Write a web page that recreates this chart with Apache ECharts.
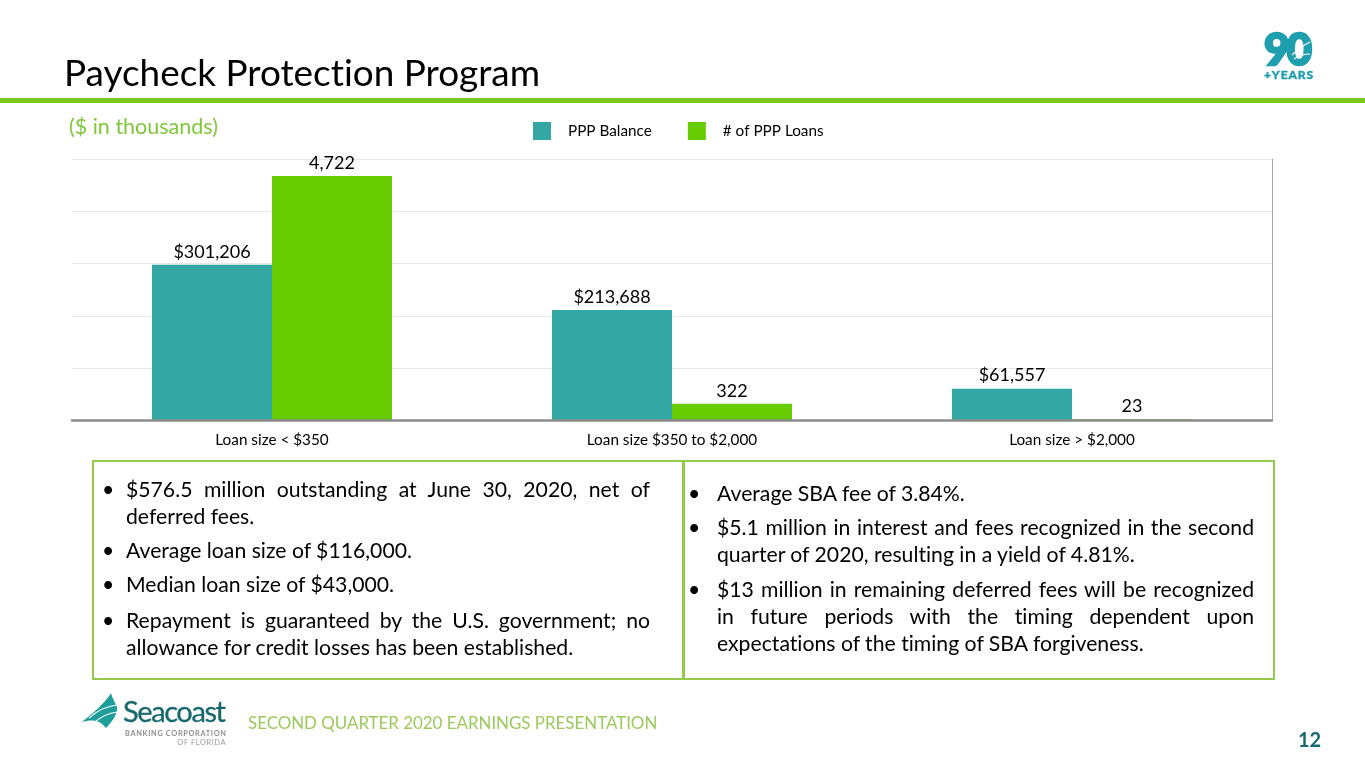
<!DOCTYPE html>
<html>
<head>
<meta charset="utf-8"/>
<title>Paycheck Protection Program</title>
<style>
    html, body { margin: 0; padding: 0; background: #fff; }
    body { width: 1365px; height: 769px; position: relative; overflow: hidden; font-family: Lato, "Open Sans", sans-serif; color: #000; font-variant-ligatures: none; }
    #main { position: absolute; left: 0; top: 0; width: 1365px; height: 769px; }
    .abs { position: absolute; white-space: nowrap; }
    #pageTitle { left: 64px; top: 50px; font-size: 36.9px; line-height: 44px; }
    #rule { position: absolute; left: 0; top: 98px; width: 1365px; height: 5px; background: #7ac81e; }
    #unit { left: 69px; top: 114px; font-size: 21.5px; line-height: 24px; color: #7fc73a; }
    .box { position: absolute; top: 460px; height: 220px; box-sizing: border-box; border: 2px solid #95c94a; font-size: 21.2px; line-height: 27px; }
    #boxLeft { left: 92px; width: 592px; }
    #boxRight { left: 683px; width: 592px; }
    .para { position: absolute; }
    #boxLeft .para { left: 32px; width: 524px; }
    #boxRight .para { left: 32px; width: 537px; }
    .para div { text-align: justify; white-space: nowrap; }
    .para div.fill { text-align-last: justify; }
    .para:before { content: "\2022"; position: absolute; top: 0; }
    #boxLeft .para:before { left: -24px; }
    #boxRight .para:before { left: -29px; }
    #footer { left: 248px; top: 713px; font-size: 16.9px; line-height: 20px; color: #9cc95c; }
    #pageNum { left: 1298px; top: 727px; font-size: 20px; line-height: 24px; font-weight: 700; color: #17686f; }
    #logo90 { position: absolute; left: 1260px; top: 28px; }
    #logoSea { position: absolute; left: 80px; top: 690px; }
</style>
</head>
<body>
<div id="main"></div>
<div id="pageTitle" class="abs">Paycheck Protection Program</div>
<div id="rule"></div>
<div id="unit" class="abs">($ in thousands)</div>

<svg id="logo90" width="58" height="54">
    <text x="4" y="37" font-family="Lato" font-weight="900" font-size="44" letter-spacing="-3" fill="#1f9fae" stroke="#1f9fae" stroke-width="2.4">90</text>
    <path d="M32 27 C38 21 44 17 50 14 M34 31 C40 27 45 26 50 26" fill="none" stroke="#fff" stroke-width="1.2"/>
    <text x="4" y="51" font-family="Lato" font-weight="900" font-size="12" textLength="49" fill="#1f9fae" stroke="#1f9fae" stroke-width="0.4">+YEARS</text>
</svg>

<div class="box" id="boxLeft">
    <div class="para" style="top:14px">
        <div class="fill">$576.5 million outstanding at June 30, 2020, net of</div>
        <div>deferred fees.</div>
    </div>
    <div class="para" style="top:75px"><div>Average loan size of $116,000.</div></div>
    <div class="para" style="top:109px"><div>Median loan size of $43,000.</div></div>
    <div class="para" style="top:145px">
        <div class="fill">Repayment is guaranteed by the U.S. government; no</div>
        <div>allowance for credit losses has been established.</div>
    </div>
</div>
<div class="box" id="boxRight">
    <div class="para" style="top:18px"><div>Average SBA fee of 3.84%.</div></div>
    <div class="para" style="top:52px">
        <div class="fill">$5.1 million in interest and fees recognized in the second</div>
        <div>quarter of 2020, resulting in a yield of 4.81%.</div>
    </div>
    <div class="para" style="top:114px">
        <div class="fill">$13 million in remaining deferred fees will be recognized</div>
        <div class="fill">in future periods with the timing dependent upon</div>
        <div>expectations of the timing of SBA forgiveness.</div>
    </div>
</div>

<svg id="logoSea" width="150" height="60">
    <path d="M31 3 C26 12 12 24 2 32 C12 29 20 30 26 38 C34 30 38 22 37 17 C35 12 32 8 31 3 Z" fill="#1f9d9b"/>
    <path d="M9 28 C18 20 28 16 37 15 M15 32 C22 26 30 23 37 22" fill="none" stroke="#fff" stroke-width="1.1"/>
    <text x="43" y="32" font-family="Lato" font-size="29" textLength="103" fill="#17686f" stroke="#17686f" stroke-width="0.3">Seacoast</text>
    <text x="146" y="46" text-anchor="end" font-family="Lato" font-weight="700" font-size="7.4" textLength="101" fill="#8f8f8f">BANKING CORPORATION</text>
    <text x="146" y="55" text-anchor="end" font-family="Lato" font-size="7.4" letter-spacing="0.6" fill="#9a9a9a">OF FLORIDA</text>
</svg>

<div id="footer" class="abs">SECOND QUARTER 2020 EARNINGS PRESENTATION</div>
<div id="pageNum" class="abs">12</div>

<script src="https://cdn.jsdelivr.net/npm/echarts@6/dist/echarts.min.js"></script>
<script>
    var categories = ['Loan size < $350', 'Loan size $350 to $2,000', 'Loan size > $2,000'];
    var balanceName = 'PPP Balance';
    var loansName = '# of PPP Loans';
    var balanceValues = [301206, 213688, 61557];
    var loanCounts = [4722, 322, 23];

    var myChart = echarts.init(document.getElementById('main'));

    function withCommas(v) {
        return String(v).replace(/\B(?=(\d{3})+$)/g, ',');
    }

    var labelText = { color: '#000', fontSize: 18, fontFamily: 'Lato', distance: 4 };

    var option = {
        animation: false,
        textStyle: { fontFamily: 'Lato' },
        color: ['#33a7a4', '#66cc00'],
        legend: {
            left: 533,
            top: 122,
            padding: 0,
            itemWidth: 18,
            itemHeight: 18,
            itemGap: 36,
            icon: 'rect',
            textStyle: { color: '#000', fontSize: 15.3, fontFamily: 'Lato', padding: [8, 0, 0, 12] },
            data: [balanceName, loansName]
        },
        grid: { left: 72, right: 93, top: 159, height: 261.5 },
        xAxis: {
            type: 'category',
            data: categories,
            z: 5, // 轴线盖住最矮的柱子
            axisTick: { show: false },
            axisLine: { lineStyle: { color: '#8c8c8c', width: 2.5 } },
            axisLabel: { color: '#000', fontSize: 15.3, fontFamily: 'Lato', margin: 12 }
        },
        yAxis: [
            {
                type: 'value',
                min: 0,
                max: 506000,
                interval: 101200,
                axisLabel: { show: false },
                axisLine: { show: false },
                axisTick: { show: false },
                splitLine: { lineStyle: { color: '#e6e6e6', width: 1 } }
            },
            {
                type: 'value',
                position: 'right',
                min: 0,
                max: 5050,
                interval: 1010,
                axisLabel: { show: false },
                axisLine: { show: true, lineStyle: { color: '#a6a6a6', width: 1 } },
                axisTick: { show: false },
                splitLine: { show: false }
            }
        ],
        series: [
            {
                name: balanceName,
                type: 'bar',
                yAxisIndex: 0,
                barWidth: 120,
                barGap: 0,
                data: balanceValues,
                label: Object.assign({ show: true, position: 'top', formatter: function (p) { return '$' + withCommas(p.value); } }, labelText)
            },
            {
                name: loansName,
                type: 'bar',
                yAxisIndex: 1,
                barWidth: 120,
                barGap: 0,
                data: loanCounts,
                label: Object.assign({ show: true, position: 'top', formatter: function (p) { return withCommas(p.value); } }, labelText)
            }
        ]
    };

    myChart.setOption(option);
</script>
</body>
</html>
